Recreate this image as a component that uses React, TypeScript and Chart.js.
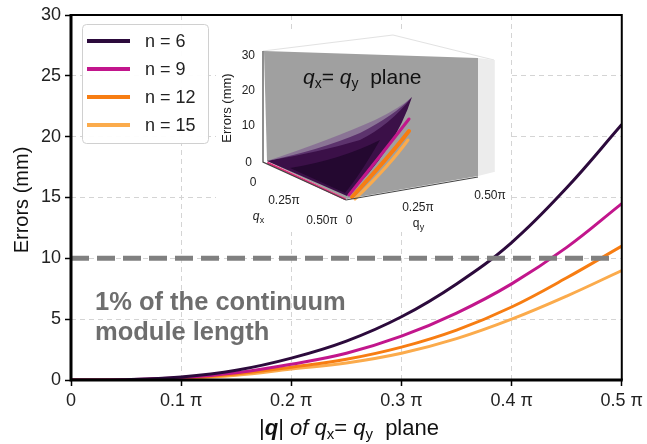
import React, { useEffect, useRef } from "react";
import { Chart, registerables } from "chart.js";

Chart.register(...registerables);

const qValues = [0, 0.05, 0.1, 0.15, 0.2, 0.25, 0.3, 0.35, 0.4, 0.45, 0.5];
const errN6 = [0, 0.03, 0.25, 0.8, 1.8, 3.2, 5.2, 7.9, 11.3, 15.8, 21.0];
const errN9 = [0, 0.02, 0.2, 0.6, 1.3, 2.2, 3.6, 5.5, 7.9, 10.9, 14.5];
const errN12 = [0, 0.02, 0.15, 0.5, 1.05, 1.7, 2.7, 4.1, 6.0, 8.4, 11.0];
const errN15 = [0, 0.01, 0.13, 0.4, 0.9, 1.4, 2.2, 3.4, 5.0, 6.9, 9.0];
const seriesLabels = ["n = 6", "n = 9", "n = 12", "n = 15"];
const seriesColors = ["#2c0a3c", "#c2168c", "#f77d12", "#fbab4c"];
const thresholdX = [0, 0.492];
const thresholdY = [10, 10];
const xTicks = [0, 0.1, 0.2, 0.3, 0.4, 0.5];
const yTicks = [0, 5, 10, 15, 20, 25, 30];
const annotationLines = ["1% of the continuum", "module length"];

const FONT = "'Liberation Sans', Arial, sans-serif";

type Part = { t: string; f: string; dy?: number };

function drawRich(ctx: CanvasRenderingContext2D, x: number, y: number, parts: Part[], align: "center" | "left" = "center") {
  ctx.save();
  ctx.textBaseline = "alphabetic";
  ctx.textAlign = "left";
  let total = 0;
  for (const p of parts) {
    ctx.font = p.f;
    total += ctx.measureText(p.t).width;
  }
  let cx = align === "center" ? x - total / 2 : x;
  for (const p of parts) {
    ctx.font = p.f;
    ctx.fillText(p.t, cx, y + (p.dy || 0));
    cx += ctx.measureText(p.t).width;
  }
  ctx.restore();
}

const overlayPlugin = {
  id: "overlay",
  afterDraw(chart: any) {
    const ctx: CanvasRenderingContext2D = chart.ctx;
    const a = chart.chartArea;

    // frame
    ctx.save();
    ctx.strokeStyle = "#000";
    ctx.lineWidth = 2;
    ctx.beginPath();
    ctx.moveTo(a.left, a.top);
    ctx.lineTo(a.right, a.top);
    ctx.lineTo(a.right, a.bottom);
    ctx.stroke();
    ctx.lineWidth = 3;
    ctx.beginPath();
    ctx.moveTo(a.left, a.top - 1);
    ctx.lineTo(a.left, a.bottom);
    ctx.lineTo(a.right + 1, a.bottom);
    ctx.stroke();
    ctx.restore();

    // annotation
    ctx.save();
    ctx.fillStyle = "#6e6e6e";
    ctx.font = `bold 25.5px ${FONT}`;
    ctx.textBaseline = "alphabetic";
    ctx.fillText(annotationLines[0], a.left + 24, 310);
    ctx.fillText(annotationLines[1], a.left + 24, 340);
    ctx.restore();

    // legend
    ctx.save();
    const lx = a.left + 11, ly = a.top + 9, lw = 126, lh = 119;
    ctx.fillStyle = "rgba(255,255,255,0.95)";
    ctx.strokeStyle = "#d0d0d0";
    ctx.lineWidth = 1;
    ctx.beginPath();
    (ctx as any).roundRect(lx + 0.5, ly + 0.5, lw, lh, 4);
    ctx.fill();
    ctx.stroke();
    ctx.font = `18px ${FONT}`;
    ctx.textBaseline = "middle";
    chart.data.datasets.forEach((ds: any, i: number) => {
      if (!ds.showInLegend) return;
      const rowY = ly + 17 + i * 28;
      ctx.strokeStyle = ds.borderColor;
      ctx.lineWidth = 4;
      ctx.beginPath();
      ctx.moveTo(lx + 5, rowY);
      ctx.lineTo(lx + 48, rowY);
      ctx.stroke();
      ctx.fillStyle = "#222";
      ctx.fillText(ds.label, lx + 63, rowY + 1);
    });
    ctx.restore();

    // axis titles
    ctx.save();
    ctx.fillStyle = "#111";
    ctx.translate(22, 200);
    ctx.rotate(-Math.PI / 2);
    ctx.font = `20px ${FONT}`;
    ctx.textAlign = "center";
    ctx.textBaseline = "middle";
    ctx.fillText("Errors (mm)", 0, 0);
    ctx.restore();

    ctx.save();
    ctx.fillStyle = "#111";
    drawRich(ctx, 349, 435, [
      { t: "|", f: `22px ${FONT}` },
      { t: "q", f: `italic bold 22px ${FONT}` },
      { t: "|", f: `22px ${FONT}` },
      { t: " of ", f: `italic 22px ${FONT}` },
      { t: "q", f: `italic 22px ${FONT}` },
      { t: "x", f: `15px ${FONT}`, dy: 4 },
      { t: "= ", f: `22px ${FONT}` },
      { t: "q", f: `italic 22px ${FONT}` },
      { t: "y", f: `15px ${FONT}`, dy: 4 },
      { t: "  plane", f: `22px ${FONT}` },
    ]);
    ctx.restore();

    // inset (3D illustration)
    ctx.save();
    ctx.fillStyle = "#fff";
    ctx.fillRect(216, 32, 292, 200);
    ctx.strokeStyle = "#e2e2e2";
    ctx.lineWidth = 1;
    ctx.beginPath();
    ctx.moveTo(263, 51);
    ctx.lineTo(393, 35);
    ctx.lineTo(494, 60);
    ctx.lineTo(494, 172);
    ctx.stroke();
    ctx.fillStyle = "#ececec";
    ctx.beginPath();
    ctx.moveTo(478, 58);
    ctx.lineTo(494, 60);
    ctx.lineTo(494, 172);
    ctx.lineTo(478, 176);
    ctx.closePath();
    ctx.fill();
    ctx.fillStyle = "#a0a0a0";
    ctx.beginPath();
    ctx.moveTo(264, 51);
    ctx.lineTo(478, 58);
    ctx.lineTo(478, 176);
    ctx.lineTo(347, 199);
    ctx.lineTo(267, 161);
    ctx.closePath();
    ctx.fill();
    ctx.fillStyle = "#3b1048";
    ctx.beginPath();
    ctx.moveTo(267, 161);
    ctx.quadraticCurveTo(320, 150, 360, 133);
    ctx.quadraticCurveTo(395, 115, 412, 97);
    ctx.quadraticCurveTo(395, 150, 347, 196);
    ctx.closePath();
    ctx.fill();
    ctx.fillStyle = "rgba(120,80,140,0.55)";
    ctx.beginPath();
    ctx.moveTo(267, 161);
    ctx.quadraticCurveTo(330, 140, 375, 120);
    ctx.quadraticCurveTo(400, 108, 412, 97);
    ctx.quadraticCurveTo(390, 125, 360, 140);
    ctx.quadraticCurveTo(320, 152, 267, 161);
    ctx.closePath();
    ctx.fill();
    ctx.fillStyle = "#240830";
    ctx.beginPath();
    ctx.moveTo(290, 168);
    ctx.quadraticCurveTo(340, 160, 380, 140);
    ctx.quadraticCurveTo(360, 175, 345, 193);
    ctx.closePath();
    ctx.fill();
    ctx.lineCap = "round";
    ctx.strokeStyle = "#c2168c";
    ctx.lineWidth = 3;
    ctx.beginPath();
    ctx.moveTo(349, 195);
    ctx.quadraticCurveTo(385, 150, 409, 119);
    ctx.stroke();
    ctx.strokeStyle = "#f77d12";
    ctx.lineWidth = 4;
    ctx.beginPath();
    ctx.moveTo(352, 197);
    ctx.quadraticCurveTo(388, 158, 409, 131);
    ctx.stroke();
    ctx.strokeStyle = "#fbab4c";
    ctx.lineWidth = 3;
    ctx.beginPath();
    ctx.moveTo(355, 199);
    ctx.quadraticCurveTo(390, 165, 408, 140);
    ctx.stroke();
    ctx.strokeStyle = "#e0307a";
    ctx.lineWidth = 2;
    ctx.beginPath();
    ctx.moveTo(268, 163);
    ctx.lineTo(345, 199);
    ctx.stroke();
    ctx.strokeStyle = "#444";
    ctx.lineWidth = 1.2;
    ctx.lineCap = "butt";
    ctx.beginPath();
    ctx.moveTo(263, 51);
    ctx.lineTo(263, 162);
    ctx.lineTo(346, 200);
    ctx.lineTo(478, 177);
    ctx.stroke();
    ctx.fillStyle = "#222";
    ctx.font = `12px ${FONT}`;
    ctx.textAlign = "right";
    ctx.textBaseline = "middle";
    ctx.fillText("30", 255, 56);
    ctx.fillText("20", 255, 91);
    ctx.fillText("10", 255, 126);
    ctx.fillText("0", 252, 163);
    ctx.textAlign = "center";
    ctx.fillText("0", 253, 183);
    ctx.fillText("0.25\u03c0", 284, 201);
    ctx.fillText("0.50\u03c0", 322, 221);
    ctx.fillText("0", 349, 221);
    ctx.fillText("0.25\u03c0", 418, 208);
    ctx.fillText("0.50\u03c0", 490, 196);
    ctx.font = `italic 12px ${FONT}`;
    ctx.fillText("q", 256, 217);
    ctx.font = `9px ${FONT}`;
    ctx.fillText("x", 262, 221);
    ctx.font = `12px ${FONT}`;
    ctx.fillText("q", 416, 224);
    ctx.font = `9px ${FONT}`;
    ctx.fillText("y", 422, 228);
    ctx.save();
    ctx.translate(227, 108);
    ctx.rotate(-Math.PI / 2);
    ctx.font = `13px ${FONT}`;
    ctx.fillText("Errors (mm)", 0, 0);
    ctx.restore();
    ctx.fillStyle = "#111";
    drawRich(ctx, 303, 84, [
      { t: "q", f: `italic 21px ${FONT}` },
      { t: "x", f: `14px ${FONT}`, dy: 4 },
      { t: "= ", f: `21px ${FONT}` },
      { t: "q", f: `italic 21px ${FONT}` },
      { t: "y", f: `14px ${FONT}`, dy: 4 },
      { t: "  plane", f: `21px ${FONT}` },
    ], "left");
    ctx.restore();
  },
};

export default function App() {
  const ref = useRef<HTMLCanvasElement | null>(null);
  useEffect(() => {
    if (!ref.current) return;
    const series = [errN6, errN9, errN12, errN15];
    const datasets: any[] = series.map((vals, i) => ({
      label: seriesLabels[i],
      data: qValues.map((q, j) => ({ x: q, y: vals[j] })),
      borderColor: seriesColors[i],
      backgroundColor: seriesColors[i],
      borderWidth: 3,
      pointRadius: 0,
      tension: 0.4,
      fill: false,
      order: 1,
      showInLegend: true,
    }));
    datasets.push({
      label: "threshold",
      data: thresholdX.map((x, j) => ({ x, y: thresholdY[j] })),
      borderColor: "#808080",
      borderWidth: 5,
      borderDash: [18, 8],
      pointRadius: 0,
      fill: false,
      order: 0,
      showInLegend: false,
    });
    const chart = new Chart(ref.current, {
      type: "line",
      data: { datasets },
      options: {
        responsive: false,
        animation: false,
        layout: { padding: { left: 0, top: 15, right: 25, bottom: 0 } },
        plugins: { legend: { display: false }, tooltip: { enabled: false } },
        scales: {
          x: {
            type: "linear",
            min: 0,
            max: 0.5,
            afterBuildTicks: (s: any) => {
              s.ticks = xTicks.map((v) => ({ value: v }));
            },
            afterFit: (s: any) => {
              s.height = 64;
            },
            ticks: {
              color: "#222",
              font: { family: FONT, size: 18 },
              padding: 4,
              maxRotation: 0,
              callback: (v: any) => (Number(v) === 0 ? "0" : `${Number(v).toFixed(1)} \u03c0`),
            },
            grid: {
              color: "#d4d4d4",
              lineWidth: 1,
              tickColor: "#000",
              tickLength: 6,
              tickWidth: 1.5,
              tickBorderDash: [],
            },
            border: { display: false, dash: [5, 4] },
          },
          y: {
            type: "linear",
            min: 0,
            max: 30,
            afterBuildTicks: (s: any) => {
              s.ticks = yTicks.map((v) => ({ value: v }));
            },
            afterFit: (s: any) => {
              s.width = 71;
            },
            ticks: {
              color: "#222",
              font: { family: FONT, size: 18 },
              padding: 4,
            },
            grid: {
              color: "#d4d4d4",
              lineWidth: 1,
              tickColor: "#000",
              tickLength: 6,
              tickWidth: 1.5,
              tickBorderDash: [],
            },
            border: { display: false, dash: [5, 4] },
          },
        },
      } as any,
      plugins: [overlayPlugin],
    });
    return () => chart.destroy();
  }, []);
  return (
    <div style={{ position: "fixed", left: 0, top: 0, width: 647, height: 444, background: "#fff" }}>
      <canvas ref={ref} width={647} height={444} />
    </div>
  );
}
